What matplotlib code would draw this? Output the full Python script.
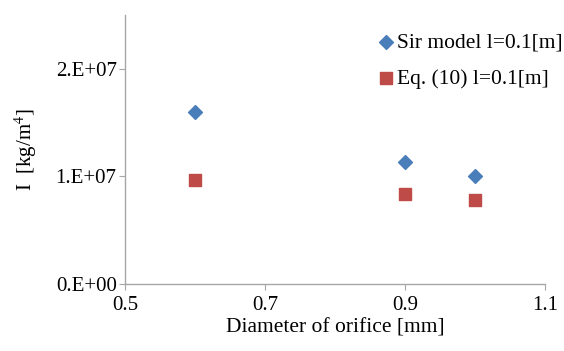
import matplotlib
matplotlib.use("Agg")
import matplotlib.pyplot as plt
from matplotlib.ticker import FixedLocator

plt.rcParams['font.family'] = ['Liberation Serif', 'DejaVu Serif']
plt.rcParams['mathtext.fontset'] = 'stix'

# data
diameter = [0.6, 0.9, 1.0]
sir_model = [1.60e7, 1.13e7, 1.00e7]
eq10 = [0.97e7, 0.84e7, 0.78e7]
y_ticks = [0, 1e7, 2e7]
y_tick_labels = ["0.E+00", "1.E+07", "2.E+07"]
x_ticks = [0.5, 0.7, 0.9, 1.1]

fig = plt.figure(figsize=(5.64, 3.51), dpi=100)
ax = fig.add_axes([125 / 564, 1 - 284 / 351, 420 / 564, 269 / 351])

ax.scatter(diameter, sir_model, marker='D', s=50, color='#4a7ebb',
           label='Sir model l=0.1[m]', zorder=3)
ax.scatter(diameter, eq10, marker='s', s=80, color='#be4b48',
           label='Eq. (10) l=0.1[m]', zorder=3)

ax.set_xlim(0.5, 1.1)
ax.set_ylim(0, 2.5e7)
ax.xaxis.set_major_locator(FixedLocator(x_ticks))
ax.set_xticklabels([str(x) for x in x_ticks])
ax.set_yticks(y_ticks)
ax.set_yticklabels(y_tick_labels)

for side in ['top', 'right']:
    ax.spines[side].set_visible(False)
for side in ['left', 'bottom']:
    ax.spines[side].set_color('#a6a6a6')
    ax.spines[side].set_linewidth(1.0)
ax.tick_params(axis='y', length=4, color='#a6a6a6', labelsize=15, pad=2)
ax.tick_params(axis='x', length=4, color='#a6a6a6', labelsize=15, pad=5)

ax.set_xlabel('Diameter of orifice [mm]', fontsize=15.5, labelpad=2)
ax.set_ylabel('I  [kg/m$^4$]', fontsize=15, labelpad=12)

leg = ax.legend(loc='upper right', bbox_to_anchor=(1.077, 0.99), frameon=False,
                fontsize=15.5, handletextpad=0.0, borderaxespad=0.3,
                labelspacing=0.75, handlelength=1.0)

fig.savefig('out.png', dpi=100)
